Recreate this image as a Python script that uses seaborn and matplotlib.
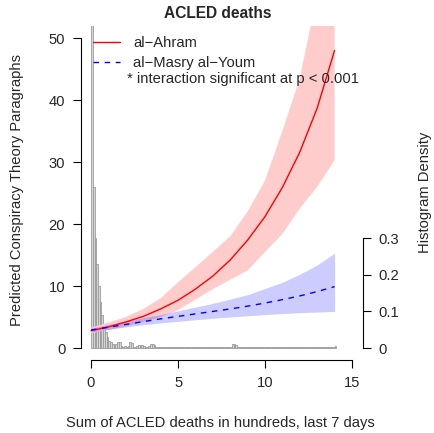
import numpy as np
import pandas as pd
import seaborn as sns
import matplotlib.pyplot as plt
from matplotlib.lines import Line2D

# predicted values at 0..14 hundred deaths
deaths = [0, 1, 2, 3, 4, 5, 6, 7, 8, 9, 10, 11, 12, 13, 14]
ahram_fit = [2.8, 3.4, 4.2, 5.1, 6.3, 7.7, 9.5, 11.6, 14.2, 17.4, 21.2, 25.9, 31.6, 38.7, 48.0]
ahram_lo = [2.4, 2.9, 3.5, 4.2, 5.0, 6.1, 7.8, 9.5, 11.0, 12.5, 15.5, 18.4, 22.5, 26.0, 30.3]
ahram_hi = [3.3, 4.1, 5.0, 6.3, 8.0, 10.6, 13.0, 15.5, 18.0, 22.0, 27.0, 35.0, 43.5, 57.0, 75.0]
masry_fit = [2.9, 3.35, 3.8, 4.25, 4.7, 5.1, 5.5, 5.9, 6.3, 6.75, 7.25, 7.8, 8.4, 9.1, 9.9]
masry_lo = [2.6, 3.0, 3.4, 3.75, 4.05, 4.3, 4.55, 4.8, 5.0, 5.2, 5.4, 5.55, 5.7, 5.8, 5.9]
masry_hi = [3.2, 3.8, 4.3, 4.9, 5.4, 6.0, 6.6, 7.2, 7.9, 8.6, 9.6, 10.6, 11.9, 13.4, 15.3]

# histogram density, bins of width 0.1 starting at 0
hist_density = [
    7.8, 0.44, 0.30, 0.23, 0.17, 0.125, 0.09, 0.065, 0.045, 0.03,
    0.02, 0.015, 0.012, 0.008, 0.01, 0.017, 0.016, 0.006, 0.004, 0.005,
    0.003, 0.006, 0.015, 0.014, 0.004, 0.003, 0.005, 0.008, 0.007, 0.009,
    0.006, 0.004, 0.003, 0.005, 0.012, 0.011, 0.008, 0.004, 0.003, 0.003,
    0.003, 0.002, 0.004, 0.003, 0.002, 0.002, 0.003, 0.002, 0.002, 0.002,
    0.004, 0.002, 0.002, 0.003, 0.002, 0.002, 0.002, 0.002, 0.003, 0.002,
    0.002, 0.002, 0.003, 0.002, 0.002, 0.002, 0.002, 0.002, 0.002, 0.002,
    0.002, 0.002, 0.002, 0.002, 0.003, 0.002, 0.002, 0.002, 0.002, 0.002,
    0.002, 0.01, 0.012, 0.008, 0.003, 0.002, 0.002, 0.002, 0.002, 0.002,
    0.002, 0.002, 0.002, 0.002, 0.002, 0.002, 0.002, 0.002, 0.002, 0.002,
    0.002, 0.002, 0.002, 0.002, 0.002, 0.002, 0.002, 0.002, 0.002, 0.002,
    0.002, 0.002, 0.002, 0.002, 0.002, 0.002, 0.002, 0.002, 0.002, 0.002,
    0.002, 0.002, 0.002, 0.002, 0.002, 0.003, 0.003, 0.002, 0.002, 0.002,
    0.002, 0.002, 0.002, 0.002, 0.002, 0.002, 0.002, 0.003, 0.004, 0.004,
    0.006,
]
bin_width = 0.1

sns.set_theme(style="ticks")
plt.rcParams["font.family"] = ["Liberation Sans", "DejaVu Sans"]
FS = 10.6
plt.rcParams["font.size"] = FS

fig = plt.figure(figsize=(4.35, 4.33), dpi=100)
W, H = 435, 433
x_lo, x_hi = -0.56, 15.3
px_left, px_right = 81.3, 91 + 15.3 * 17.4
px_top, px_bot = 25.6, 360.4
ax = fig.add_axes([px_left / W, 1 - px_bot / H, (px_right - px_left) / W, (px_bot - px_top) / H])
ax2 = ax.twinx()

# histogram on the density axis
edges = [round(i * bin_width, 2) for i in range(len(hist_density) + 1)]
centers = [e + bin_width / 2 for e in edges[:-1]]
hist_df = pd.DataFrame({"x": centers, "w": hist_density})
sns.histplot(data=hist_df, x="x", weights="w", bins=edges, stat="count",
             color="#d6d6d6", edgecolor="#9a9a9a", linewidth=0.6, alpha=1, ax=ax2)

# bands and fitted lines
ax.fill_between(deaths, ahram_lo, ahram_hi, color="#ffcccc", lw=0, zorder=1)
ax.fill_between(deaths, masry_lo, masry_hi, color=(0, 0, 1, 0.2), lw=0, zorder=1)
sns.lineplot(x=deaths, y=ahram_fit, color="red", lw=1, ax=ax, zorder=3)
sns.lineplot(x=deaths, y=masry_fit, color="blue", lw=1, ax=ax, zorder=3)
ax.lines[-1].set_dashes((4, 4))

ax.set_zorder(ax2.get_zorder() + 1)
ax.patch.set_visible(False)

ax.set_xlim(x_lo, x_hi)
ax.set_ylim(-2, 52)
scale = 0.3 / (110 / 6.2)
ax2.set_ylim(-2 * scale, 52 * scale)

for s in ["top", "right"]:
    ax.spines[s].set_visible(False)
for s in ["top", "left", "bottom"]:
    ax2.spines[s].set_visible(False)
ax.spines["left"].set_bounds(0, 50)
ax.spines["bottom"].set_bounds(0, 15)
ax2.spines["right"].set_bounds(0, 0.3)
ax2.spines["right"].set_position(("outward", 4.0))
for sp in [ax.spines["left"], ax.spines["bottom"], ax2.spines["right"]]:
    sp.set_color("black")
    sp.set_linewidth(0.8)

ax.set_xticks([0, 5, 10, 15])
ax.set_yticks([0, 10, 20, 30, 40, 50])
ax2.set_yticks([0, 0.1, 0.2, 0.3])
ax2.set_yticklabels(["0", "0.1", "0.2", "0.3"])
ax.tick_params(axis="both", direction="out", length=6, width=0.8, color="black",
               labelsize=FS, pad=5.5)
ax2.tick_params(axis="y", direction="out", length=6, width=0.8, color="black",
                labelsize=FS, pad=5.5)

ax.set_xlabel("")
ax.set_ylabel("")
ax2.set_ylabel("")
ax2.set_xlabel("")

fig.text(220 / W, 1 - 423 / H, "Sum of ACLED deaths in hundreds, last 7 days",
         ha="center", va="center", fontsize=FS)
fig.text(17 / W, 1 - 190 / H, "Predicted Conspiracy Theory Paragraphs",
         ha="center", va="center", rotation=90, fontsize=FS)
fig.text(425 / W, 1 - 192 / H, "Histogram Density",
         ha="center", va="center", rotation=90, fontsize=FS)
fig.text(218 / W, 1 - 14 / H, "ACLED deaths", ha="center", va="center",
         fontsize=11.2, fontweight="bold")

handles = [Line2D([], [], color="red", lw=1),
           Line2D([], [], color="blue", lw=1, dashes=(4, 4))]
ax.legend(handles, ["al\u2212Ahram", "al\u2212Masry al\u2212Youm"],
          loc="upper left", bbox_to_anchor=((93 - px_left) / (px_right - px_left), (px_bot - 36) / (px_bot - px_top)),
          frameon=False, borderpad=0, borderaxespad=0, handlelength=1.85,
          handletextpad=0.9, labelspacing=0.42, fontsize=FS)
ax.text((127 - px_left) / (px_right - px_left), (px_bot - 79.5) / (px_bot - px_top),
        "* interaction significant at p < 0.001", transform=ax.transAxes,
        ha="left", va="center", fontsize=FS)

fig.savefig("out.png", dpi=100)
